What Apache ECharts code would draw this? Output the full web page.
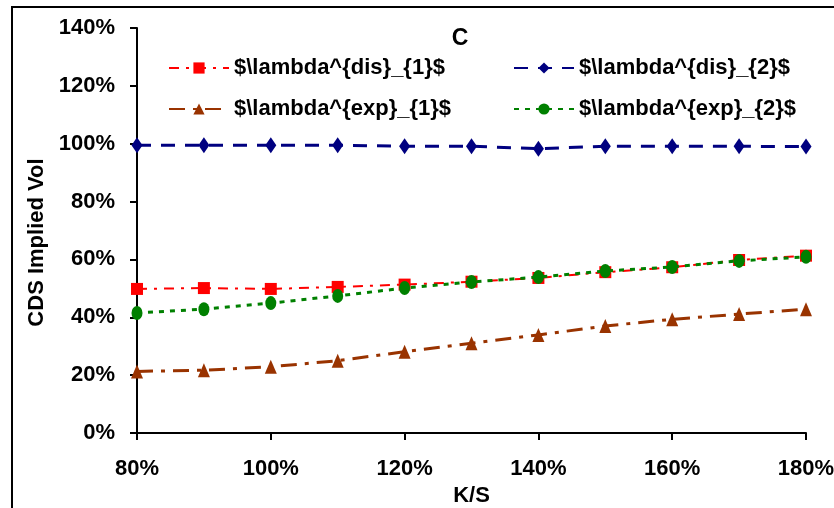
<!DOCTYPE html>
<html>
<head>
<meta charset="utf-8">
<script src="https://cdn.jsdelivr.net/npm/echarts@6/dist/echarts.min.js"></script>
<style>
  html, body { margin: 0; padding: 0; background: #fff; }
  #chart { width: 834px; height: 508px; }
</style>
</head>
<body>
<div id="chart"></div>
<script>
// Strike levels (K/S, in %)
const moneyness = [80, 90, 100, 110, 120, 130, 140, 150, 160, 170, 180];

// CDS implied volatility (%) per calibration
const lambdaDis1 = [49.8, 50.1, 49.8, 50.5, 51.3, 52.3, 53.6, 55.6, 57.3, 59.8, 61.3];
const lambdaDis2 = [99.5, 99.5, 99.5, 99.5, 99.1, 99.1, 98.3, 99.1, 99.1, 99.1, 99.0];
const lambdaExp1 = [21.3, 21.7, 22.9, 25.0, 28.1, 31.0, 33.9, 37.0, 39.3, 41.1, 42.8];
const lambdaExp2 = [41.5, 42.8, 44.9, 47.4, 50.1, 52.2, 53.9, 56.0, 57.4, 59.5, 60.9];

const seriesNames = [
  '$\\lambda^{dis}_{1}$',
  '$\\lambda^{dis}_{2}$',
  '$\\lambda^{exp}_{1}$',
  '$\\lambda^{exp}_{2}$'
];

const FONT = '"Liberation Sans", Arial, sans-serif';
const pairs = arr => moneyness.map((k, i) => [k, arr[i]]);

const chart = echarts.init(document.getElementById('chart'), null, { renderer: 'canvas' });

const legendText = { fontFamily: FONT, fontSize: 22, fontWeight: 'bold', color: '#000' };

chart.setOption({
  animation: false,
  backgroundColor: '#fff',
  graphic: [{
    type: 'rect',
    shape: { x: 12, y: 7, width: 900, height: 600 },
    style: { fill: 'none', stroke: '#000', lineWidth: 2 },
    silent: true,
    z: 100
  }],
  title: {
    text: 'C',
    left: 455,
    top: 22,
    textAlign: 'center',
    textStyle: { fontFamily: FONT, fontSize: 23, fontWeight: 'bold', color: '#000' }
  },
  legend: [{
    orient: 'vertical',
    left: 163,
    top: 52,
    itemWidth: 60,
    itemHeight: 14,
    itemGap: 19,
    textStyle: legendText,
    data: [seriesNames[0], seriesNames[2]]
  }, {
    orient: 'vertical',
    left: 508,
    top: 52,
    itemWidth: 60,
    itemHeight: 14,
    itemGap: 19,
    textStyle: legendText,
    data: [seriesNames[1], seriesNames[3]]
  }],
  grid: {
    left: 137, right: 28, top: 28, bottom: 75,
    containLabel: false,
    outerBoundsMode: 'none'
  },
  xAxis: {
    type: 'value',
    min: 80,
    max: 180,
    interval: 20,
    name: 'K/S',
    nameLocation: 'middle',
    nameGap: 48,
    nameTextStyle: { fontFamily: FONT, fontSize: 22, fontWeight: 'bold', color: '#000' },
    axisLine: { lineStyle: { color: '#000', width: 2 } },
    axisTick: { inside: false, length: 7, lineStyle: { color: '#000', width: 2 } },
    axisLabel: {
      formatter: v => v + '%',
      margin: 25,
      fontFamily: FONT, fontSize: 22, fontWeight: 'bold', color: '#000'
    },
    splitLine: { show: false }
  },
  yAxis: {
    type: 'value',
    min: 0,
    max: 140,
    interval: 20,
    name: 'CDS Implied Vol',
    nameLocation: 'middle',
    nameRotate: 90,
    nameGap: 86,
    nameTextStyle: {
      fontFamily: FONT, fontSize: 22, fontWeight: 'bold', color: '#000',
      padding: [0, 24, 0, 0]
    },
    axisLine: { show: true, lineStyle: { color: '#000', width: 2 } },
    axisTick: { show: true, inside: false, length: 7, lineStyle: { color: '#000', width: 2 } },
    axisLabel: {
      formatter: v => v + '%',
      margin: 22,
      fontFamily: FONT, fontSize: 22, fontWeight: 'bold', color: '#000'
    },
    splitLine: { show: false }
  },
  series: [{
    name: seriesNames[0],
    type: 'line',
    data: pairs(lambdaDis1),
    symbol: 'rect',
    symbolSize: 12,
    itemStyle: { color: '#ff0000' },
    lineStyle: { color: '#ff0000', width: 2, type: [10, 7, 3, 7] },
    z: 3
  }, {
    name: seriesNames[1],
    type: 'line',
    data: pairs(lambdaDis2),
    symbol: 'diamond',
    symbolSize: [11, 16],
    itemStyle: { color: '#000080' },
    lineStyle: { color: '#000080', width: 3, type: [14, 10] },
    z: 2
  }, {
    name: seriesNames[2],
    type: 'line',
    data: pairs(lambdaExp1),
    symbol: 'triangle',
    symbolSize: [12, 14],
    itemStyle: { color: '#993300' },
    lineStyle: { color: '#993300', width: 3, type: [16, 8, 4, 8] },
    z: 2
  }, {
    name: seriesNames[3],
    type: 'line',
    data: pairs(lambdaExp2),
    symbol: 'circle',
    symbolSize: [11, 14],
    itemStyle: { color: '#008000' },
    lineStyle: { color: '#008000', width: 3, type: [5, 6] },
    z: 4
  }]
});
</script>
</body>
</html>
